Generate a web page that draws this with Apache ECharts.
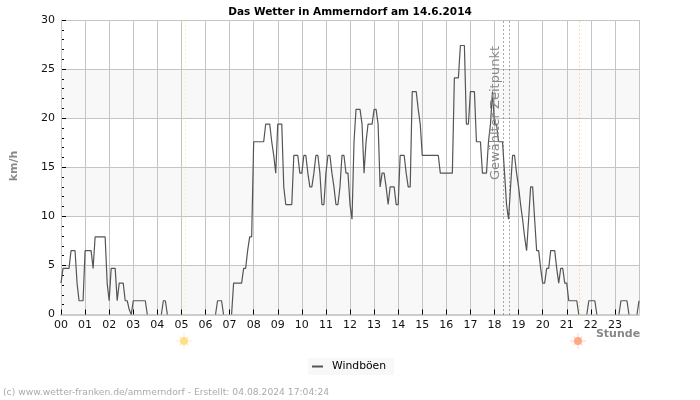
<!DOCTYPE html>
<html><head><meta charset="utf-8">
<style>html,body{margin:0;padding:0;background:#fff}#c{width:700px;height:400px}</style>
<script src="https://cdn.jsdelivr.net/npm/echarts@6/dist/echarts.min.js"></script>
</head><body><div id="c"></div>
<script>
const hourLabels = ['00','01','02','03','04','05','06','07','08','09','10','11','12','13','14','15','16','17','18','19','20','21','22','23'];
// gusts per hour, one value every 5 minutes
const h00 = [3.2,4.7,4.7,4.7,4.7,6.5,6.5,6.5,3.2,1.4,1.4,1.4];
const h01 = [6.5,6.5,6.5,6.5,4.7,7.9,7.9,7.9,7.9,7.9,7.9,3.2];
const h02 = [1.4,4.7,4.7,4.7,1.4,3.2,3.2,3.2,1.4,1.4,0.5,0];
const h03 = [1.4,1.4,1.4,1.4,1.4,1.4,1.4,0,0,0,0,0];
const h04 = [0,0,0,1.4,1.4,0,0,0,0,0,0,0];
const h05 = [0,0,0,0,0,0,0,0,0,0,0,0];
const h06 = [0,0,0,0,0,0,1.4,1.4,1.4,0,0,0];
const h07 = [0,0,3.2,3.2,3.2,3.2,3.2,4.7,4.7,6.5,7.9,7.9];
const h08 = [17.6,17.6,17.6,17.6,17.6,17.6,19.4,19.4,19.4,17.6,16.2,14.4];
const h09 = [19.4,19.4,19.4,13,11.2,11.2,11.2,11.2,16.2,16.2,16.2,14.4];
const h10 = [14.4,16.2,16.2,14.4,13,13,14.4,16.2,16.2,14.4,11.2,11.2];
const h11 = [14.4,16.2,16.2,14.4,13,11.2,11.2,13,16.2,16.2,14.4,14.4];
const h12 = [11.2,9.7,17.6,20.9,20.9,20.9,19.4,14.4,17.6,19.4,19.4,19.4];
const h13 = [20.9,20.9,19.4,13,14.4,14.4,13,11.2,13,13,13,11.2];
const h14 = [11.2,16.2,16.2,16.2,14.4,13,13,22.7,22.7,22.7,20.9,19.4];
const h15 = [16.2,16.2,16.2,16.2,16.2,16.2,16.2,16.2,16.2,14.4,14.4,14.4];
const h16 = [14.4,14.4,14.4,14.4,24.1,24.1,24.1,27.4,27.4,27.4,19.4,19.4];
const h17 = [22.7,22.7,22.7,17.6,17.6,17.6,14.4,14.4,14.4,17.6,19.4,22.7];
const h18 = [19.4,19.4,17.6,17.6,17.6,14.4,11.2,9.7,13,16.2,16.2,14.4];
const h19 = [13,11.2,9.7,7.9,6.5,9.7,13,13,9.7,6.5,6.5,4.7];
const h20 = [3.2,3.2,4.7,4.7,6.5,6.5,6.5,4.7,3.2,4.7,4.7,3.2];
const h21 = [3.2,1.4,1.4,1.4,1.4,1.4,0,0,0,0,0,1.4];
const h22 = [1.4,1.4,1.4,0,0,0,0,0,0,0,0,0];
const h23 = [0,0,0,1.4,1.4,1.4,1.4,0,0,0,0,0];
const lastValue = [1.4];
const gusts = [].concat(h00,h01,h02,h03,h04,h05,h06,h07,h08,h09,h10,h11,h12,h13,h14,h15,h16,h17,h18,h19,h20,h21,h22,h23,lastValue);
const sunrise = 5.16, sunset = 21.52, selectedFrom = 18.36, selectedTo = 18.6;
const yMax = 30, yStep = 5;

function sun(cx, cy, core, ray) {
  const kids = [];
  for (let i = 0; i < 8; i++) {
    const a = i * Math.PI / 4, r2 = i % 2 ? 6.5 : 8;
    kids.push({type:'line', shape:{x1:cx, y1:cy, x2:cx+r2*Math.cos(a), y2:cy+r2*Math.sin(a)}, style:{stroke:ray, lineWidth:1.2}, silent:true});
  }
  kids.push({type:'circle', shape:{cx:cx, cy:cy, r:4}, style:{fill:core}, silent:true});
  return kids;
}
const FONT = 'DejaVu Sans';
const chart = echarts.init(document.getElementById('c'), null, {renderer:'canvas'});
chart.setOption({
  animation:false,
  backgroundColor:'#fff',
  title:{text:'Das Wetter in Ammerndorf am 14.6.2014', left:'center', top:2, textStyle:{fontFamily:FONT, fontSize:10.5, fontWeight:'bold', color:'#000'}},
  grid:{left:61, right:61, top:20, bottom:85.5},
  legend:{left:308, top:358, padding:[3,8,3,4], backgroundColor:'#f8f8f8', icon:'rect', itemWidth:11, itemHeight:2,
    textStyle:{fontFamily:FONT, fontSize:10.8, color:'#000', padding:[0,0,0,4]}, data:['Windböen']},
  xAxis:{type:'value', min:0, max:24, interval:1, z:3,
    axisLine:{show:true, onZero:false, lineStyle:{color:'#ccc', width:2}},
    axisTick:{show:true, inside:true, length:5, lineStyle:{color:'#000', width:1}},
    axisLabel:{fontFamily:FONT, fontSize:11, color:'#111', margin:5, showMaxLabel:false,
      formatter:v => hourLabels[v] === undefined ? '' : hourLabels[v]},
    splitLine:{show:true, lineStyle:{color:'#c4c4c4', width:1}}},
  yAxis:{type:'value', min:0, max:yMax, interval:yStep,
    axisLine:{show:true, lineStyle:{color:'#c4c4c4', width:1}},
    axisTick:{show:true, inside:true, length:5, lineStyle:{color:'#000', width:1}},
    minorTick:{show:true, splitNumber:5, length:3, lineStyle:{color:'#000', width:1}},
    axisLabel:{fontFamily:FONT, fontSize:11, color:'#111', margin:6},
    splitLine:{show:true, lineStyle:{color:'#c4c4c4', width:1}},
    splitArea:{show:true, areaStyle:{color:['#f8f8f8','#ffffff']}}},
  series:[{
    name:'Windböen', type:'line', showSymbol:false, symbol:'none',
    lineStyle:{color:'#555', width:1.2}, itemStyle:{color:'#555'},
    // stretches of zero lie under the axis line in the reference, so they are left undrawn
    data:gusts.map((v,i)=>[i/12, (v===0 && gusts[i-1]===0 && gusts[i+1]===0) ? null : v]),
    markLine:{silent:true, symbol:'none', label:{show:false}, animation:false, data:[
      {xAxis:sunrise, lineStyle:{color:'#eeee99', type:[1,3], width:1}},
      {xAxis:sunset, lineStyle:{color:'#f5c070', type:[1,3], width:1}},
      {xAxis:selectedFrom, lineStyle:{color:'#555', type:[1,3], width:1}},
      {xAxis:selectedTo, lineStyle:{color:'#555', type:[1,3], width:1}}
    ]}
  }],
  graphic:[
    {type:'text', z:10, silent:true, x:14, y:166, rotation:Math.PI/2, style:{text:'km/h', fontFamily:FONT, fontSize:11, fontWeight:'bold', fill:'#888', align:'center', verticalAlign:'middle'}},
    {type:'text', z:10, silent:true, x:618, y:334, style:{text:'Stunde', fontFamily:FONT, fontSize:11, fontWeight:'bold', fill:'#888', align:'center', verticalAlign:'middle'}},
    {type:'text', z:10, silent:true, x:496, y:113, rotation:Math.PI/2, style:{text:'Gewählter Zeitpunkt', fontFamily:FONT, fontSize:13, fill:'#888', align:'center', verticalAlign:'middle'}},
    {type:'text', z:10, silent:true, x:3, y:393, style:{text:'(c) www.wetter-franken.de/ammerndorf - Erstellt: 04.08.2024 17:04:24', fontFamily:FONT, fontSize:9.2, fill:'#aaa', align:'left', verticalAlign:'middle'}},
    {type:'group', z:10, silent:true, children:sun(184,341,'#ffe08a','#fff0c4')},
    {type:'group', z:10, silent:true, children:sun(578,341,'#ffa888','#ffdccc')}
  ]
});
</script></body></html>
